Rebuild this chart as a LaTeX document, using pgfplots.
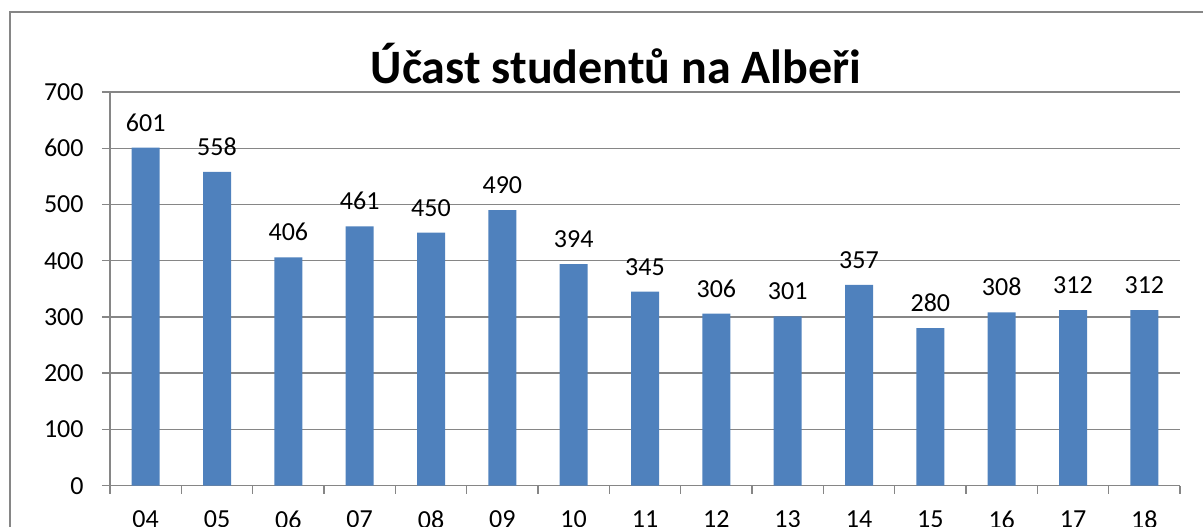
\documentclass[border=0pt]{standalone}
\usepackage{pgfplots}
\pgfplotsset{compat=1.18}
\usepackage{fontspec}
\setmainfont{Carlito}
\definecolor{barblue}{HTML}{4F81BD}
\definecolor{gridgray}{HTML}{868686}
\begin{document}
\begin{tikzpicture}
\begin{axis}[
  at={(0,0)}, anchor=south west,
  scale only axis, width=535pt, height=196.85pt,
  xmin=-0.5, xmax=14.5, ymin=0, ymax=700,
  enlargelimits=false,
  ytick={0,100,...,700},
  xtick={0,...,14},
  xticklabels={04,05,06,07,08,09,10,11,12,13,14,15,16,17,18},
  minor xtick={-0.5,0.5,...,14.5},
  axis x line*=bottom, axis y line*=left,
  ymajorgrids,
  grid style={gridgray, line width=0.75pt},
  axis line style={gridgray, line width=0.75pt},
  tick style={gridgray, line width=0.75pt},
  major x tick style={draw=none},
  tick align=outside,
  major tick length=4pt, minor tick length=4pt,
  ybar, bar width=14pt,
  /pgf/number format/assume math mode=true,
  ticklabel style={font=\fontsize{13}{15}\selectfont, text=black},
  yticklabel style={anchor=east, inner sep=0pt, xshift=-9pt},
  xticklabel style={anchor=north, inner sep=0pt, yshift=-8.5pt},
  nodes near coords,
  every node near coord/.append style={font=\fontsize{13}{15}\selectfont, text=black, anchor=south, inner sep=0pt, yshift=8pt},
]
\addplot[fill=barblue, draw=none] coordinates {
  (0,601) (1,558) (2,406) (3,461) (4,450) (5,490) (6,394) (7,345)
  (8,306) (9,301) (10,357) (11,280) (12,308) (13,312) (14,312)
};
\end{axis}
\node[font=\fontsize{24}{28}\selectfont\bfseries, anchor=base] at (253pt,201.35pt) {Účast studentů na Albeři};
\draw[gridgray, line width=1pt] (600pt,236.85pt) -- (-50pt,236.85pt) -- (-50pt,-60pt);
\pgfresetboundingbox
\useasboundingbox (-55pt,-20.15pt) rectangle (546.5pt,242.85pt);
\end{tikzpicture}
\end{document}
